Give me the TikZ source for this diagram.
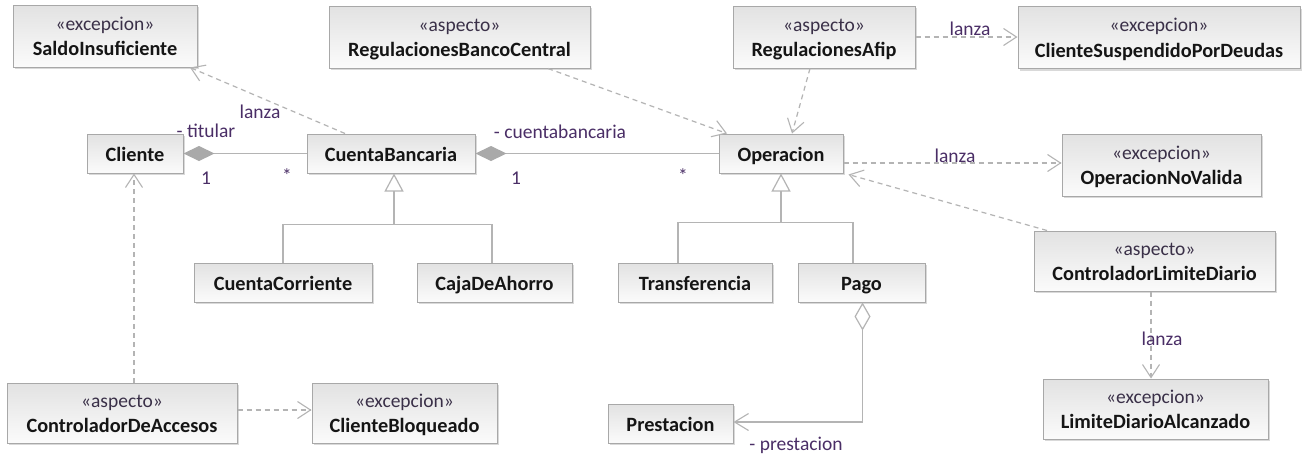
\documentclass[tikz,border=0pt]{standalone}
\usepackage{fontspec}
\setmainfont{Carlito}
\usetikzlibrary{arrows.meta,shadows}
\definecolor{boxtop}{HTML}{E2E2E2}
\definecolor{boxbot}{HTML}{FBFBFB}
\definecolor{boxline}{HTML}{A8A8A8}
\definecolor{conn}{HTML}{B4B4B4}
\definecolor{dmd}{HTML}{A9A9A9}
\definecolor{lbl}{HTML}{4A2E66}
\definecolor{stc}{HTML}{3A3048}
\definecolor{nmc}{HTML}{151515}
\newcommand\stereo[1]{{\color{stc}\fontsize{19.5}{25.5}\selectfont\rule{0pt}{18.5pt}«#1»}}
\newcommand\cname[1]{{\color{nmc}\fontsize{20.3}{25.5}\selectfont\bfseries\rule[-5pt]{0pt}{25.5pt}#1}}
\begin{document}
\begin{tikzpicture}[x=1pt,y=-1pt,
  box/.style={draw=boxline, line width=1pt, top color=boxtop, bottom color=boxbot,
    inner sep=0pt, align=center, font=\fontsize{19.5}{25.5}\selectfont,
    drop shadow={shadow xshift=2pt, shadow yshift=-2pt, fill=black, opacity=0.15}},
  conline/.style={draw=conn, line width=1.2pt},
  dep/.style={conline, dash pattern=on 5pt off 4pt, -{Straight Barb[length=13pt,width=17pt,line width=1.1pt]}},
  gen/.style={conline, -{Triangle[open,length=18pt,width=19pt,fill=white]}},
  comp/.style={conline, {Diamond[length=31pt,width=15pt,fill=dmd,color=dmd]}-},
  agg/.style={conline, {Diamond[open,length=28pt,width=16pt,fill=white]}-{Straight Barb[length=14pt,width=17pt,line width=1.1pt]}},
  lab/.style={text=lbl, inner sep=0pt, font=\fontsize{19.5}{22}\selectfont}
]
\useasboundingbox[fill=white] (0,0) rectangle (1305,456);

% boxes
\node[box, minimum width=184pt, minimum height=62pt] (saldo) at (105,36) {\stereo{excepcion}\\\cname{SaldoInsuficiente}};
\node[box, minimum width=261pt, minimum height=62pt] (rbc) at (459.5,37) {\stereo{aspecto}\\\cname{RegulacionesBancoCentral}};
\node[box, minimum width=182pt, minimum height=62pt] (afip) at (824,37) {\stereo{aspecto}\\\cname{RegulacionesAfip}};
\node[box, minimum width=282pt, minimum height=62pt] (csd) at (1159,37.5) {\stereo{excepcion}\\\cname{ClienteSuspendidoPorDeudas}};
\node[box, minimum width=96pt, minimum height=39pt] (cliente) at (135,153.5) {\cname{Cliente}};
\node[box, minimum width=168pt, minimum height=39pt] (cb) at (391,153.5) {\cname{CuentaBancaria}};
\node[box, minimum width=124pt, minimum height=39pt] (oper) at (781,153.5) {\cname{Operacion}};
\node[box, minimum width=199pt, minimum height=62pt] (onv) at (1161.5,165) {\stereo{excepcion}\\\cname{OperacionNoValida}};
\node[box, minimum width=241pt, minimum height=60pt] (cld) at (1154.5,261) {\stereo{aspecto}\\\cname{ControladorLimiteDiario}};
\node[box, minimum width=225pt, minimum height=60pt] (lda) at (1155.5,409) {\stereo{excepcion}\\\cname{LimiteDiarioAlcanzado}};
\node[box, minimum width=178pt, minimum height=39pt] (cc) at (283,282.5) {\cname{CuentaCorriente}};
\node[box, minimum width=155pt, minimum height=39pt] (caja) at (494.5,282.5) {\cname{CajaDeAhorro}};
\node[box, minimum width=154pt, minimum height=39pt] (transf) at (695,282.5) {\cname{Transferencia}};
\node[box, minimum width=127pt, minimum height=39pt] (pago) at (861.5,282.5) {\cname{Pago}};
\node[box, minimum width=125pt, minimum height=39pt] (prest) at (670.5,423.5) {\cname{Prestacion}};
\node[box, minimum width=230pt, minimum height=60pt] (cda) at (122,413) {\stereo{aspecto}\\\cname{ControladorDeAccesos}};
\node[box, minimum width=185pt, minimum height=60pt] (cbq) at (404.5,413) {\stereo{excepcion}\\\cname{ClienteBloqueado}};

% associations
\draw[comp] (cliente.east) -- (cb.west);
\draw[comp] (cb.east) -- (oper.west);

% generalizations
\coordinate (gc) at ([xshift=3pt,yshift=-51pt]cb.south);
\draw[conline] (cc.north) |- (gc) -| ([xshift=-2.5pt]caja.north);
\draw[gen] (gc) -- ([xshift=3pt]cb.south);
\coordinate (gj) at ([yshift=-49pt]oper.south);
\draw[conline] ([xshift=-17pt]transf.north) |- (gj) -| ([xshift=-8.5pt]pago.north);
\draw[gen] (gj) -- (oper.south);

% aggregation
\draw[agg] ([xshift=1pt]pago.south) |- ([yshift=1.5pt]prest.east);

% dependencies
\draw[dep] ([xshift=-46pt]cb.north) -- ([xshift=85pt]saldo.south);
\draw[dep] ([xshift=88.5pt]rbc.south) -- ([xshift=-54pt]oper.north);
\draw[dep] ([xshift=-14pt]afip.south) -- ([xshift=11pt]oper.north);
\draw[dep] (afip.east) -- (csd.west |- afip.east);
\draw[dep] ([yshift=-9.5pt]oper.east) -- ([yshift=2pt]onv.west);
\draw[dep] ([xshift=-107.5pt]cld.north) -- ([xshift=5pt,yshift=-1pt]oper.south east);
\draw[dep] ([xshift=-3.5pt]cld.south) -- ([xshift=-4.5pt]lda.north);
\draw[dep] ([xshift=12pt]cda.north) -- ([xshift=-1pt]cliente.south);
\draw[dep] ([yshift=3pt]cda.east) -- ([yshift=3pt]cbq.west);

% labels
\node[lab] (l1) at (260,112) {lanza};
\node[lab] (l2) at (206,131) {- titular};
\node[lab] (l3) at (206,178) {1};
\node[lab] (l4) at (287,176) {*};
\node[lab] (l5) at (560,132) {- cuentabancaria};
\node[lab] (l6) at (516,178) {1};
\node[lab] (l7) at (683,176) {*};
\node[lab] (l8) at (970,29) {lanza};
\node[lab] (l9) at (955,156) {lanza};
\node[lab] (l10) at (1162,339) {lanza};
\node[lab] (l11) at (796,445) {- prestacion};
\end{tikzpicture}
\end{document}
